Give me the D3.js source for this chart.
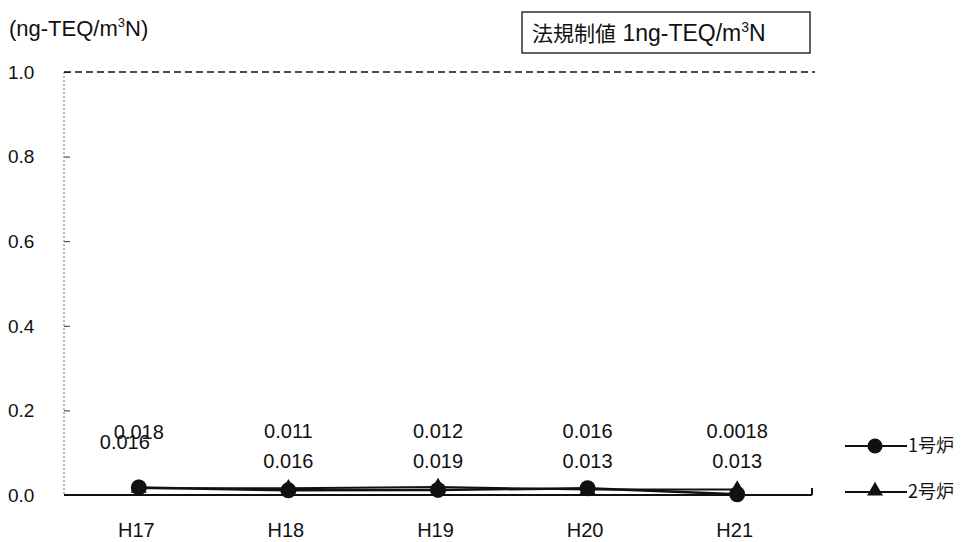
<!DOCTYPE html>
<html>
<head>
<meta charset="utf-8">
<script src="https://cdn.jsdelivr.net/npm/d3@7"></script>
<style>
  body { margin: 0; background: #fff; }
  text { font-family: "Liberation Sans", "Noto Sans CJK JP", sans-serif; fill: #111; }
</style>
</head>
<body>
<div id="chart"></div>
<script>
// data
var years = ["H17", "H18", "H19", "H20", "H21"];
var furnace1 = [0.018, 0.011, 0.012, 0.016, 0.0018];
var furnace2 = [0.016, 0.016, 0.019, 0.013, 0.013];
var seriesNames = ["1号炉", "2号炉"];
var yTicks = [0.0, 0.2, 0.4, 0.6, 0.8, 1.0];
var limitValue = 1.0;

var svgWidth = 971;
var svgHeight = 542;

var margin = { top: 72, right: 159, bottom: 47, left: 64 };
var width = svgWidth - margin.left - margin.right;
var height = svgHeight - margin.top - margin.bottom;

var svg = d3.select("#chart")
  .append("svg")
  .attr("width", svgWidth)
  .attr("height", svgHeight);

var chartGroup = svg.append("g")
  .attr("transform", `translate(${margin.left}, ${margin.top})`);

// scales
var xScale = d3.scalePoint()
  .domain(years)
  .range([0, width])
  .padding(0.5);

var yScale = d3.scaleLinear()
  .domain([0, 1])
  .range([height, 0]);

// y axis: dotted line, inner ticks, labels on the far left
var yAxis = chartGroup.append("g")
  .call(d3.axisRight(yScale).tickValues(yTicks).tickSize(6).tickFormat(""));
yAxis.select(".domain").remove();
yAxis.selectAll(".tick line").attr("stroke", "#333");
chartGroup.append("line")
  .attr("x1", 0).attr("x2", 0)
  .attr("y1", 0).attr("y2", height)
  .attr("stroke", "#888")
  .attr("stroke-width", 1.2)
  .attr("stroke-dasharray", "2,2");

chartGroup.selectAll(".ylab")
  .data(yTicks)
  .enter()
  .append("text")
  .attr("class", "ylab")
  .attr("x", -56)
  .attr("y", d => yScale(d))
  .attr("dy", "0.36em")
  .style("font-size", "19px")
  .text(d => d.toFixed(1));

// limit line
chartGroup.append("line")
  .attr("x1", 0).attr("x2", width + 3)
  .attr("y1", yScale(limitValue)).attr("y2", yScale(limitValue))
  .attr("stroke", "#111")
  .attr("stroke-width", 1.5)
  .attr("stroke-dasharray", "7,4");

// x axis
var xAxis = chartGroup.append("g")
  .attr("transform", `translate(0, ${height})`)
  .call(d3.axisBottom(xScale).tickSize(0).tickPadding(28));
xAxis.select(".domain").remove();
xAxis.selectAll("text")
  .style("font-size", "20px")
  .attr("fill", "#111")
  .attr("dx", "-3");
chartGroup.append("line")
  .attr("x1", 0).attr("x2", width)
  .attr("y1", height).attr("y2", height)
  .attr("stroke", "#111").attr("stroke-width", 2.2);
chartGroup.append("line")
  .attr("x1", width).attr("x2", width)
  .attr("y1", height - 7).attr("y2", height)
  .attr("stroke", "#111").attr("stroke-width", 2);

// series lines
var line = d3.line()
  .x((d, i) => xScale(years[i]))
  .y(d => yScale(d));

chartGroup.append("path")
  .datum(furnace2)
  .attr("d", line)
  .attr("fill", "none")
  .attr("stroke", "#111")
  .attr("stroke-width", 2);

chartGroup.append("path")
  .datum(furnace1)
  .attr("d", line)
  .attr("fill", "none")
  .attr("stroke", "#111")
  .attr("stroke-width", 2.5);

// markers
var tri = d3.symbol().type(d3.symbolTriangle).size(110);
chartGroup.selectAll(".tri")
  .data(furnace2)
  .enter()
  .append("path")
  .attr("class", "tri")
  .attr("d", tri)
  .attr("transform", (d, i) => `translate(${xScale(years[i])}, ${yScale(d)})`)
  .attr("fill", "#111");

chartGroup.selectAll(".dot")
  .data(furnace1)
  .enter()
  .append("circle")
  .attr("class", "dot")
  .attr("cx", (d, i) => xScale(years[i]))
  .attr("cy", d => yScale(d))
  .attr("r", 8)
  .attr("fill", "#111");

// value labels (first category overlaps like the original)
function labelY(i, series) {
  if (i === 0) return series === 1 ? height - 63 : height - 53;
  return series === 1 ? height - 64 : height - 34;
}

chartGroup.selectAll(".lab1")
  .data(furnace1)
  .enter()
  .append("text")
  .attr("class", "lab1")
  .attr("x", (d, i) => xScale(years[i]))
  .attr("y", (d, i) => labelY(i, 1))
  .attr("dy", "0.36em")
  .attr("text-anchor", "middle")
  .style("font-size", "20px")
  .text(d => String(d));

chartGroup.selectAll(".lab2")
  .data(furnace2)
  .enter()
  .append("text")
  .attr("class", "lab2")
  .attr("x", (d, i) => xScale(years[i]) - (i === 0 ? 14 : 0))
  .attr("y", (d, i) => labelY(i, 2))
  .attr("dy", "0.36em")
  .attr("text-anchor", "middle")
  .style("font-size", "20px")
  .text(d => String(d));

// unit label
svg.append("text")
  .attr("x", 9)
  .attr("y", 36)
  .style("font-size", "22px")
  .html("(ng-TEQ/m<tspan dy='-9' font-size='13'>3</tspan><tspan dy='9'>N)</tspan>");

// limit box
svg.append("rect")
  .attr("x", 522).attr("y", 12)
  .attr("width", 288).attr("height", 41)
  .attr("fill", "#fff")
  .attr("stroke", "#111")
  .attr("stroke-width", 1.3);
svg.append("text")
  .attr("x", 532)
  .attr("y", 41)
  .style("font-size", "23px")
  .html("<tspan font-family='Noto Sans CJK JP' font-size='21'>法規制値</tspan> 1ng-TEQ/m<tspan dy='-9' font-size='14'>3</tspan><tspan dy='9'>N</tspan>");

// legend
var legend = svg.append("g")
  .attr("transform", "translate(845, 446)");
seriesNames.forEach(function(name, i) {
  var g = legend.append("g").attr("transform", `translate(0, ${i * 46})`);
  g.append("line")
    .attr("x1", 0).attr("x2", 62)
    .attr("y1", 0).attr("y2", 0)
    .attr("stroke", "#111").attr("stroke-width", 2);
  if (i === 0) {
    g.append("circle").attr("cx", 30).attr("cy", 0).attr("r", 7.5).attr("fill", "#111");
  } else {
    g.append("path").attr("d", tri).attr("transform", "translate(30, -1)").attr("fill", "#111");
  }
  g.append("text")
    .attr("x", 63)
    .attr("y", 0)
    .attr("dy", "0.36em")
    .style("font-size", "18px")
    .style("font-family", "'Noto Sans CJK JP', sans-serif")
    .text(name);
});
</script>
</body>
</html>
